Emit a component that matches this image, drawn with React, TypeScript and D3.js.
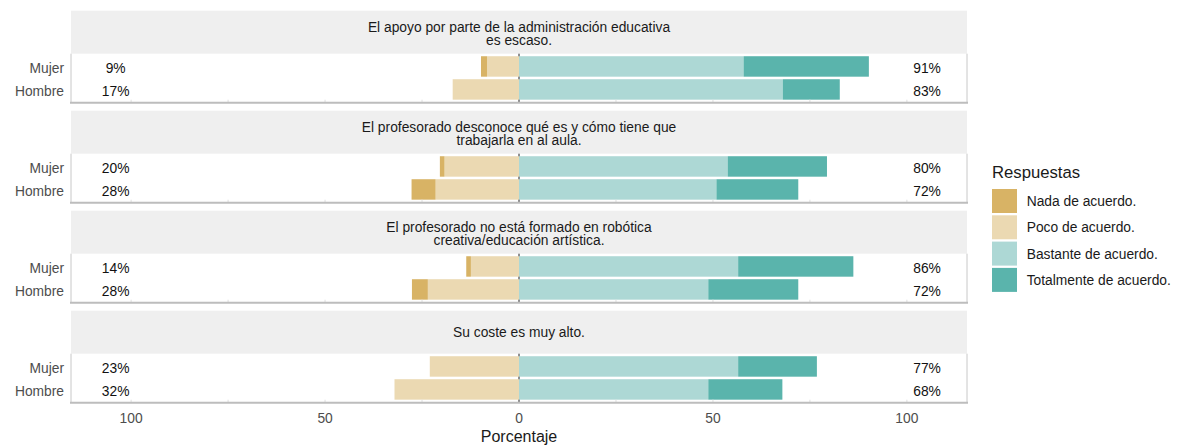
import React from "react";
import * as d3 from "d3";

const questions: string[][] = [
  ["El apoyo por parte de la administración educativa", "es escaso."],
  ["El profesorado desconoce qué es y cómo tiene que", "trabajarla en al aula."],
  ["El profesorado no está formado en robótica", "creativa/educación artística."],
  ["Su coste es muy alto."],
];
const genders = ["Mujer", "Hombre"];
const levels = ["Nada de acuerdo.", "Poco de acuerdo.", "Bastante de acuerdo.", "Totalmente de acuerdo."];
const colors = ["#D8B365", "#EBD9B2", "#ADD8D5", "#5AB4AC"];

// per question: [Mujer, Hombre]
const nada = [[1.55, 0], [1.2, 6.2], [1.2, 4.1], [0, 0]];
const poco = [[8.25, 17.1], [19.2, 21.5], [12.4, 23.5], [23.0, 32.1]];
const bastante = [[57.9, 68.0], [53.8, 50.9], [56.5, 48.8], [56.5, 48.8]];
const totalmente = [[32.3, 14.7], [25.6, 21.1], [29.7, 23.2], [20.3, 19.1]];
const lowLabels = [["9%", "17%"], ["20%", "28%"], ["14%", "28%"], ["23%", "32%"]];
const highLabels = [["91%", "83%"], ["80%", "72%"], ["86%", "72%"], ["77%", "68%"]];
const tickValues = [-100, -50, 0, 50, 100];
const minorTicks = [-100, -75, -50, -25, 25, 50, 75, 100];

const W = 1180, H = 447;
const FONT = "'Liberation Sans', Arial, sans-serif";
const FS = 13.8;

export default function App() {
  const x = d3.scaleLinear().domain([-115.5, 115.5]).range([71, 967]);
  const stripTop0 = 10.7;
  const panelStep = 100;
  const stripH = 43;
  const panelH = 48.5;

  return (
    <svg width={W} height={H} style={{ position: "absolute", left: 0, top: 0, background: "#fff" }} fontFamily={FONT}>
      {questions.map((q, qi) => {
        const st = stripTop0 + qi * panelStep;
        const pt = st + stripH;
        const pb = pt + panelH;
        const y = d3.scaleBand().domain(genders).range([pt, pb]).padding(0.11);
        return (
          <g key={qi}>
            <rect x={71} y={st} width={896} height={stripH} fill="#EFEFEF" />
            {q.map((line, li) => {
              const base = q.length === 1 ? st + stripH / 2 + 5 : st + 21 + li * 13.3;
              return (
                <text key={li} x={x(0)} y={base} textAnchor="middle" fontSize={FS} fill="#1A1A1A">
                  {line}
                </text>
              );
            })}
            {/* zero line */}
            <line x1={x(0)} x2={x(0)} y1={pt} y2={pb} stroke="#222" strokeWidth={1} />
            {genders.map((g, gi) => {
              const segsNeg = [
                { v: poco[qi][gi], c: colors[1] },
                { v: nada[qi][gi], c: colors[0] },
              ];
              const segsPos = [
                { v: bastante[qi][gi], c: colors[2] },
                { v: totalmente[qi][gi], c: colors[3] },
              ];
              const by = y(g)!;
              const bh = y.bandwidth();
              const rects: any[] = [];
              let acc = 0;
              segsNeg.forEach((s, i) => {
                if (s.v > 0) {
                  rects.push(
                    <rect key={"n" + i} x={x(-(acc + s.v))} y={by} width={x(-acc) - x(-(acc + s.v))} height={bh} fill={s.c} />
                  );
                }
                acc += s.v;
              });
              acc = 0;
              segsPos.forEach((s, i) => {
                rects.push(
                  <rect key={"p" + i} x={x(acc)} y={by} width={x(acc + s.v) - x(acc)} height={bh} fill={s.c} />
                );
                acc += s.v;
              });
              const cy = by + bh / 2 + 6.5;
              return (
                <g key={g}>
                  {rects}
                  <text x={x(-104)} y={cy} textAnchor="middle" fontSize={FS} fill="#111">{lowLabels[qi][gi]}</text>
                  <text x={x(105.2)} y={cy} textAnchor="middle" fontSize={FS} fill="#111">{highLabels[qi][gi]}</text>
                  <text x={64} y={cy} textAnchor="end" fontSize={FS} fill="#4D4D4D">{g}</text>
                </g>
              );
            })}
            {/* borders */}
            <line x1={71} x2={71} y1={pt} y2={pb} stroke="#C8C8C8" strokeWidth={1} />
            <line x1={967} x2={967} y1={pt} y2={pb} stroke="#C8C8C8" strokeWidth={1} />
            {minorTicks.map((t) => (
              <line key={t} x1={x(t)} x2={x(t)} y1={pb - 2.5} y2={pb} stroke="#E0E0E0" strokeWidth={1} />
            ))}
            <line x1={70} x2={968} y1={pb + 0.5} y2={pb + 0.5} stroke="#BDBDBD" strokeWidth={2} />
          </g>
        );
      })}
      {tickValues.map((t) => (
        <text key={t} x={x(t)} y={423.3} textAnchor="middle" fontSize={FS} fill="#4D4D4D">
          {Math.abs(t)}
        </text>
      ))}
      <text x={x(0)} y={441.7} textAnchor="middle" fontSize={16} fill="#1A1A1A">Porcentaje</text>
      <text x={992} y={178.3} fontSize={16.7} fill="#1A1A1A">Respuestas</text>
      {levels.map((l, i) => (
        <g key={l}>
          <rect x={992} y={189 + i * 26.3} width={25} height={24} fill={colors[i]} />
          <text x={1026.7} y={189 + i * 26.3 + 12 + 5} fontSize={FS} fill="#1A1A1A">{l}</text>
        </g>
      ))}
    </svg>
  );
}
